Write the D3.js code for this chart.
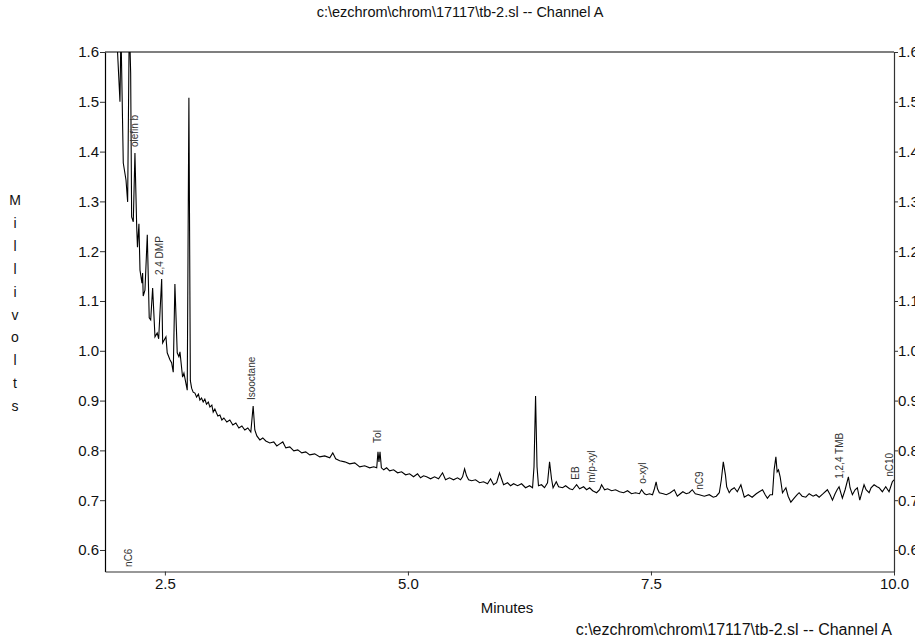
<!DOCTYPE html>
<html>
<head>
<meta charset="utf-8">
<script src="https://cdn.jsdelivr.net/npm/d3@7"></script>
<style>
  body { margin: 0; background: #fff; }
  text { font-family: "Liberation Sans", Arial, sans-serif; }
</style>
</head>
<body>
<div id="chart"></div>
<script>
// chromatogram trace, minutes / millivolts
const times = [
  1.987, 2.007, 2.038, 2.048, 2.056, 2.072, 2.100, 2.117, 2.134, 2.148,
  2.158, 2.175, 2.192, 2.210, 2.218, 2.233, 2.244, 2.264, 2.271, 2.277,
  2.295, 2.319, 2.339, 2.354, 2.374, 2.398, 2.421, 2.436, 2.467, 2.477,
  2.511, 2.524, 2.552, 2.569, 2.586, 2.603, 2.627, 2.644, 2.655, 2.682,
  2.696, 2.730, 2.747, 2.762, 2.775, 2.791, 2.809, 2.826, 2.845, 2.860,
  2.877, 2.894, 2.911, 2.928, 2.947, 2.963, 2.983, 2.997, 3.014, 3.031,
  3.045, 3.066, 3.086, 3.107, 3.137, 3.168, 3.199, 3.230, 3.261, 3.292,
  3.322, 3.353, 3.384, 3.408, 3.425, 3.446, 3.477, 3.507, 3.538, 3.579,
  3.620, 3.651, 3.682, 3.713, 3.744, 3.785, 3.826, 3.867, 3.908, 3.949,
  3.990, 4.041, 4.093, 4.144, 4.196, 4.227, 4.257, 4.298, 4.350, 4.401,
  4.453, 4.504, 4.555, 4.607, 4.648, 4.679, 4.692, 4.702, 4.713, 4.727,
  4.751, 4.781, 4.812, 4.853, 4.894, 4.935, 4.976, 5.017, 5.058, 5.099,
  5.130, 5.161, 5.192, 5.233, 5.274, 5.315, 5.356, 5.387, 5.428, 5.469,
  5.510, 5.541, 5.562, 5.583, 5.603, 5.624, 5.655, 5.696, 5.737, 5.778,
  5.819, 5.850, 5.881, 5.912, 5.942, 5.963, 5.984, 6.025, 6.056, 6.087,
  6.128, 6.169, 6.210, 6.251, 6.282, 6.297, 6.313, 6.328, 6.343, 6.374,
  6.405, 6.436, 6.457, 6.477, 6.493, 6.526, 6.550, 6.591, 6.622, 6.663,
  6.694, 6.735, 6.766, 6.807, 6.838, 6.869, 6.900, 6.941, 6.972, 6.992,
  7.023, 7.054, 7.095, 7.136, 7.177, 7.218, 7.259, 7.300, 7.341, 7.382,
  7.403, 7.434, 7.454, 7.485, 7.516, 7.536, 7.553, 7.567, 7.586, 7.627,
  7.658, 7.699, 7.740, 7.771, 7.802, 7.828, 7.863, 7.894, 7.925, 7.956,
  7.997, 8.049, 8.100, 8.141, 8.172, 8.203, 8.224, 8.244, 8.266, 8.279,
  8.305, 8.326, 8.357, 8.388, 8.425, 8.460, 8.501, 8.541, 8.583, 8.614,
  8.648, 8.675, 8.698, 8.726, 8.750, 8.767, 8.785, 8.798, 8.812, 8.829,
  8.853, 8.888, 8.911, 8.939, 8.973, 9.004, 9.024, 9.055, 9.093, 9.127,
  9.168, 9.199, 9.230, 9.271, 9.315, 9.343, 9.367, 9.394, 9.415, 9.435,
  9.469, 9.497, 9.531, 9.548, 9.572, 9.600, 9.623, 9.648, 9.672, 9.692,
  9.713, 9.744, 9.764, 9.795, 9.826, 9.846, 9.880, 9.915, 9.949, 9.983,
  10.000
];
const millivolts = [
  1.664, 1.624, 1.500, 1.644, 1.558, 1.377, 1.343, 1.299, 1.664, 1.558,
  1.269, 1.259, 1.397, 1.249, 1.208, 1.255, 1.162, 1.136, 1.156, 1.110,
  1.122, 1.233, 1.066, 1.062, 1.126, 1.028, 1.036, 1.024, 1.144, 1.016,
  1.028, 0.996, 0.982, 0.976, 0.957, 1.134, 0.996, 0.988, 0.998, 0.947,
  0.955, 0.921, 1.508, 0.940, 0.925, 0.917, 0.915, 0.907, 0.913, 0.901,
  0.905, 0.897, 0.903, 0.893, 0.897, 0.887, 0.891, 0.877, 0.883, 0.875,
  0.869, 0.871, 0.861, 0.865, 0.857, 0.861, 0.851, 0.855, 0.845, 0.849,
  0.841, 0.845, 0.837, 0.889, 0.841, 0.829, 0.821, 0.825, 0.819, 0.815,
  0.817, 0.809, 0.813, 0.817, 0.805, 0.807, 0.799, 0.801, 0.795, 0.797,
  0.791, 0.793, 0.787, 0.789, 0.785, 0.795, 0.783, 0.779, 0.777, 0.773,
  0.775, 0.767, 0.769, 0.765, 0.767, 0.765, 0.797, 0.777, 0.797, 0.765,
  0.761, 0.765, 0.759, 0.761, 0.755, 0.757, 0.751, 0.753, 0.747, 0.753,
  0.745, 0.749, 0.747, 0.743, 0.747, 0.743, 0.755, 0.741, 0.745, 0.741,
  0.745, 0.741, 0.747, 0.763, 0.749, 0.741, 0.739, 0.741, 0.735, 0.737,
  0.733, 0.743, 0.731, 0.735, 0.755, 0.743, 0.731, 0.735, 0.729, 0.733,
  0.729, 0.733, 0.725, 0.729, 0.725, 0.767, 0.909, 0.767, 0.729, 0.731,
  0.725, 0.735, 0.777, 0.743, 0.725, 0.737, 0.727, 0.725, 0.729, 0.723,
  0.721, 0.731, 0.723, 0.727, 0.721, 0.725, 0.719, 0.715, 0.721, 0.731,
  0.721, 0.723, 0.719, 0.721, 0.717, 0.715, 0.719, 0.713, 0.715, 0.713,
  0.721, 0.713, 0.711, 0.713, 0.711, 0.723, 0.737, 0.723, 0.715, 0.713,
  0.711, 0.715, 0.721, 0.708, 0.713, 0.717, 0.713, 0.715, 0.721, 0.713,
  0.711, 0.708, 0.711, 0.706, 0.708, 0.715, 0.741, 0.777, 0.751, 0.727,
  0.715, 0.721, 0.725, 0.717, 0.731, 0.706, 0.711, 0.706, 0.713, 0.717,
  0.721, 0.711, 0.704, 0.711, 0.711, 0.761, 0.787, 0.757, 0.761, 0.747,
  0.715, 0.725, 0.708, 0.696, 0.704, 0.711, 0.715, 0.708, 0.706, 0.713,
  0.708, 0.711, 0.706, 0.713, 0.721, 0.711, 0.700, 0.713, 0.721, 0.727,
  0.704, 0.721, 0.747, 0.725, 0.711, 0.721, 0.725, 0.700, 0.717, 0.731,
  0.721, 0.715, 0.725, 0.731, 0.727, 0.725, 0.717, 0.727, 0.717, 0.737,
  0.741
];

// peak names: retention time and the mV level where the label starts
const peakNames = ["nC6", "olefin b", "2,4 DMP", "Isooctane", "Tol", "EB", "m/p-xyl", "o-xyl", "nC9", "1,2,4 TMB", "nC10"];
const peakTimes = [2.123, 2.192, 2.449, 3.391, 4.692, 6.723, 6.887, 7.408, 7.997, 9.435, 9.956];
const peakLevels = [0.566, 1.409, 1.152, 0.901, 0.815, 0.741, 0.735, 0.733, 0.721, 0.743, 0.747];

const xTicks = [2.5, 5.0, 7.5, 10.0];
const yTicks = [0.6, 0.7, 0.8, 0.9, 1.0, 1.1, 1.2, 1.3, 1.4, 1.5, 1.6];
const titleText = "c:\\ezchrom\\chrom\\17117\\tb-2.sl -- Channel A";
const yLabel = "Millivolts";

const width = 915, height = 643;
const margin = {top: 52, right: 21, bottom: 71.5, left: 105};
const iw = width - margin.left - margin.right;
const ih = height - margin.top - margin.bottom;

const svg = d3.select("#chart").append("svg")
  .attr("width", width)
  .attr("height", height);

const x = d3.scaleLinear().domain([1.884, 10.0]).range([0, iw]);
const y = d3.scaleLinear().domain([0.5568, 1.6]).range([ih, 0]);

const g = svg.append("g").attr("transform", `translate(${margin.left},${margin.top})`);

svg.append("defs").append("clipPath").attr("id", "plotclip")
  .append("rect").attr("width", iw).attr("height", ih);

// trace
const trace = times.map((t, i) => [t, millivolts[i]]);
g.append("path")
  .datum(trace)
  .attr("clip-path", "url(#plotclip)")
  .attr("fill", "none")
  .attr("stroke", "#000")
  .attr("stroke-width", 1.1)
  .attr("stroke-linejoin", "miter")
  .attr("d", d3.line().x(d => x(d[0])).y(d => y(d[1])));

// top frame line
g.append("line")
  .attr("x1", 0).attr("x2", iw).attr("y1", 0).attr("y2", 0)
  .attr("stroke", "#000").attr("stroke-width", 1.2);

const fmt = d3.format(".1f");

const left = g.append("g")
  .call(d3.axisLeft(y).tickValues(yTicks).tickFormat(fmt).tickSize(5).tickPadding(1).tickSizeOuter(0));
const right = g.append("g")
  .attr("transform", `translate(${iw},0)`)
  .call(d3.axisRight(y).tickValues(yTicks).tickFormat(fmt).tickSize(4).tickPadding(0).tickSizeOuter(0));
const bottom = g.append("g")
  .attr("transform", `translate(0,${ih})`)
  .call(d3.axisBottom(x).tickValues(xTicks).tickFormat(fmt).tickSize(4).tickPadding(3).tickSizeOuter(0));

[left, right, bottom].forEach(a => {
  a.selectAll("text").attr("font-size", 15).attr("fill", "#111")
    .style("font-family", "'Liberation Sans', Arial, sans-serif");
  a.select(".domain").attr("stroke", "#333").attr("stroke-width", 1.2);
  a.selectAll(".tick line").attr("stroke", "#333");
});
left.select(".domain").attr("stroke", "#000");

// peak labels
g.selectAll(".peak")
  .data(peakNames)
  .enter()
  .append("text")
  .attr("class", "peak")
  .attr("transform", (d, i) => `translate(${x(peakTimes[i]) + 3.5},${y(peakLevels[i])}) rotate(-90)`)
  .attr("font-size", 10)
  .attr("fill", "#333")
  .text(d => d);

// titles
svg.append("text")
  .attr("x", 460).attr("y", 17)
  .attr("text-anchor", "middle")
  .attr("font-size", 14.5)
  .attr("fill", "#111")
  .text(titleText);

svg.append("text")
  .attr("x", 892).attr("y", 635)
  .attr("text-anchor", "end")
  .attr("font-size", 16)
  .attr("fill", "#111")
  .text(titleText);

svg.append("text")
  .attr("x", 507).attr("y", 613)
  .attr("text-anchor", "middle")
  .attr("font-size", 15)
  .attr("fill", "#111")
  .text("Minutes");

svg.selectAll(".ylab")
  .data(yLabel.split(""))
  .enter()
  .append("text")
  .attr("class", "ylab")
  .attr("x", 15)
  .attr("y", (d, i) => 205 + i * 22.9)
  .attr("text-anchor", "middle")
  .attr("font-size", 14)
  .attr("fill", "#111")
  .text(d => d);
</script>
</body>
</html>
